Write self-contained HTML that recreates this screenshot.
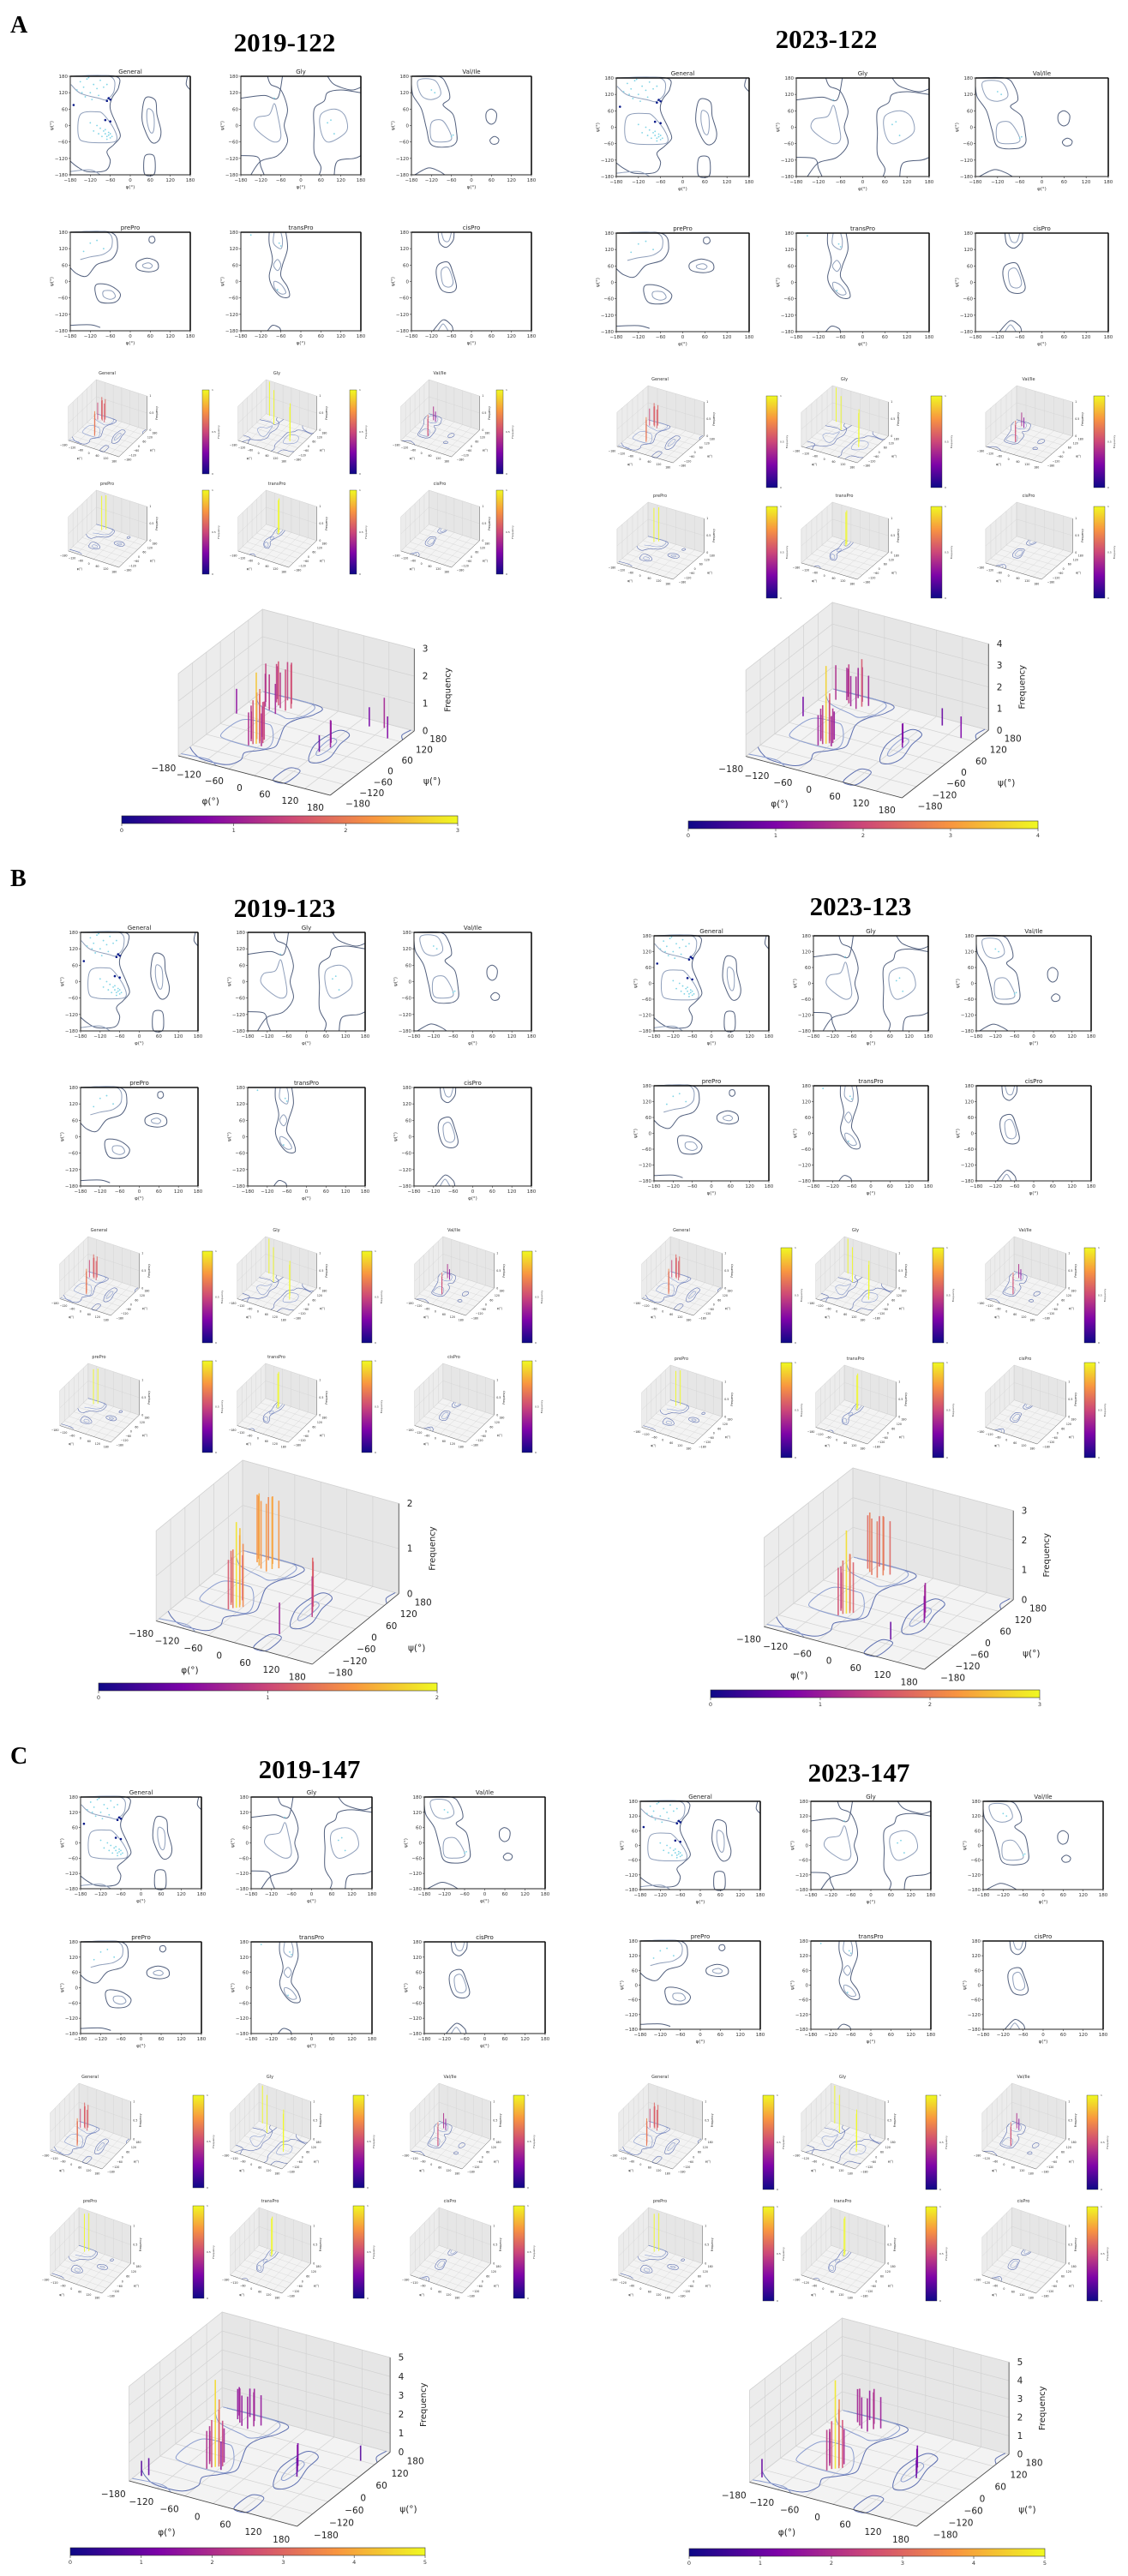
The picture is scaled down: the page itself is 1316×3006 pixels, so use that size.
<!DOCTYPE html>
<html><head><meta charset="utf-8"><title>Ramachandran plots</title>
<style>
html,body{margin:0;padding:0;background:#fff;}
svg{display:block;}
text{font-family:"DejaVu Sans","Liberation Sans",sans-serif;}
.ttl{font-family:"Liberation Serif",serif;font-weight:bold;}
</style></head>
<body>
<svg id="fig" width="1316" height="3006" viewBox="0 0 1316 3006" xmlns="http://www.w3.org/2000/svg">
<defs>
<linearGradient id="plasmaV" x1="0" y1="1" x2="0" y2="0">
<stop offset="0" stop-color="#0d0887"/><stop offset="0.25" stop-color="#7e03a8"/><stop offset="0.5" stop-color="#cc4778"/><stop offset="0.75" stop-color="#f89540"/><stop offset="1" stop-color="#f0f921"/>
</linearGradient>
<linearGradient id="plasmaH" x1="0" y1="0" x2="1" y2="0">
<stop offset="0" stop-color="#0d0887"/><stop offset="0.25" stop-color="#7e03a8"/><stop offset="0.5" stop-color="#cc4778"/><stop offset="0.75" stop-color="#f89540"/><stop offset="1" stop-color="#f0f921"/>
</linearGradient>
</defs>
</svg>
<script>
// ---------- data ----------
const angleTicks = [-180,-120,-60,0,60,120,180];
const ramaBeta = [[-150,160],[-140,140],[-130,170],[-120,120],[-110,150],[-100,135],[-90,165],[-135,105],[-80,140],[-115,95],[-160,130],[-70,150],[-95,110],[-125,175],[-145,120]];
const ramaAlpha = [[-70,-40],[-65,-35],[-60,-45],[-75,-30],[-80,-20],[-90,-10],[-100,0],[-70,-50],[-60,-30],[-85,-40],[-110,-20],[-65,-25],[-55,-40],[-95,-30],[-120,10],[-75,-15]];
const ramaDark = [[-65,100],[-70,90],[-60,95],[-75,20],[-60,15],[-170,75]];
const glyPts = [[-80,100],[80,10],[100,-30],[90,20]];
const valPts = [[-120,130],[-60,-40],[-110,120],[-55,-35]];
const prePts = [[-120,140],[-100,150],[-80,120],[-140,110]];
const transPts = [[-65,140],[-70,-30],[-60,130],[-150,170]];
const cisPts = [];

const contGeneral = [
 {l:0,c:false,p:[[-170,180],[-45,180],[-35,140],[-55,100],[-60,60],[-40,0],[-30,-40],[-50,-70],[-70,-95],[-60,-130],[-75,-165],[-130,-168],[-160,-150],[-180,-130]]},
 {l:1,c:false,p:[[-178,180],[-62,180],[-48,130],[-70,95],[-95,100],[-150,118],[-178,150]]},
 {l:1,c:true,p:[[-150,40],[-100,50],[-80,40],[-50,-10],[-40,-50],[-60,-62],[-130,-60],[-155,-40]]},
 {l:0,c:true,p:[[45,100],[75,92],[80,40],[92,-20],[85,-55],[65,-62],[45,-20],[35,30]]},
 {l:1,c:true,p:[[52,60],[68,50],[72,10],[68,-25],[58,-20],[50,20]]},
 {l:0,c:true,p:[[45,-110],[70,-110],[75,-150],[70,-180],[45,-180],[40,-150]]},
 {l:0,c:false,p:[[172,180],[168,150],[180,130]]},
 {l:1,c:false,p:[[-180,-168],[-120,-162],[-90,-180]]}
];
const contGly = [
 {l:0,c:false,p:[[-180,100],[-110,110],[-70,100],[-55,180]]},
 {l:0,c:false,p:[[-100,180],[-90,150],[-60,130],[-40,60],[-50,0],[-40,-60],[-70,-110],[-120,-130],[-150,-180]]},
 {l:1,c:true,p:[[-130,30],[-95,40],[-80,80],[-70,40],[-60,-40],[-80,-60],[-120,-30],[-140,0]]},
 {l:0,c:false,p:[[55,-180],[60,-150],[40,-100],[40,-20],[40,60],[70,90],[80,120],[120,130],[180,120]]},
 {l:1,c:true,p:[[60,40],[100,60],[130,40],[140,-10],[120,-40],[80,-60],[60,-20]]},
 {l:0,c:false,p:[[100,-180],[110,-130],[160,-120],[180,-110]]},
 {l:0,c:false,p:[[-180,-110],[-130,-115],[-120,-150],[-110,-180]]},
 {l:0,c:false,p:[[80,180],[100,150],[150,130],[180,140]]}
];
const contVal = [
 {l:0,c:false,p:[[-180,180],[-100,180],[-75,150],[-65,100],[-85,75],[-55,40],[-45,-20],[-45,-60],[-70,-78],[-120,-70],[-135,-10],[-150,60],[-175,110],[-180,150]]},
 {l:1,c:true,p:[[-160,165],[-110,165],[-92,115],[-120,95],[-150,110]]},
 {l:1,c:true,p:[[-120,10],[-90,20],[-70,-10],[-60,-50],[-90,-60],[-120,-50]]},
 {l:0,c:true,p:[[45,48],[60,60],[75,45],[72,15],[58,5],[45,20]]},
 {l:0,c:true,p:[[58,-48],[70,-40],[82,-50],[78,-65],[64,-68],[56,-58]]},
 {l:0,c:false,p:[[-170,-180],[-130,-155],[-100,-165],[-80,-180]]}
];
const contPre = [
 {l:0,c:false,p:[[-180,180],[-60,180],[-38,130],[-55,82],[-100,62],[-130,20],[-160,28],[-180,50]]},
 {l:1,c:false,p:[[-175,180],[-70,180],[-55,130],[-80,100],[-120,90],[-150,80]]},
 {l:0,c:true,p:[[58,162],[70,164],[74,150],[66,140],[57,146]]},
 {l:0,c:true,p:[[20,70],[50,85],[80,72],[82,45],[55,35],[22,45]]},
 {l:1,c:true,p:[[38,62],[55,68],[66,58],[58,48],[40,52]]},
 {l:0,c:true,p:[[-100,-10],[-60,-15],[-30,-45],[-45,-75],[-90,-75],[-105,-40]]},
 {l:1,c:true,p:[[-80,-35],[-55,-35],[-45,-55],[-60,-65],[-80,-55]]},
 {l:0,c:false,p:[[-180,-160],[-120,-158],[-90,-168]]}
];
const contTrans = [
 {l:0,c:false,p:[[-95,180],[-95,140],[-85,80],[-95,20],[-85,-20],[-60,-55],[-35,-55],[-40,-20],[-60,20],[-55,60],[-40,120],[-45,180]]},
 {l:1,c:false,p:[[-80,180],[-82,140],[-60,120],[-55,150],[-60,180]]},
 {l:1,c:true,p:[[-82,60],[-70,80],[-60,60],[-70,40]]},
 {l:1,c:true,p:[[-80,0],[-60,-10],[-45,-40],[-60,-45],[-78,-25]]},
 {l:0,c:false,p:[[-100,-180],[-85,-160],[-65,-168],[-60,-180]]}
];
const contCis = [
 {l:0,c:false,p:[[-100,180],[-95,140],[-75,125],[-55,150],[-52,180]]},
 {l:1,c:false,p:[[-90,180],[-82,150],[-68,148],[-60,180]]},
 {l:0,c:true,p:[[-100,60],[-70,70],[-55,30],[-45,-20],[-60,-40],[-90,-30],[-105,20]]},
 {l:1,c:true,p:[[-90,40],[-70,50],[-55,0],[-65,-20],[-85,-10]]},
 {l:0,c:false,p:[[-115,-180],[-85,-140],[-60,-160],[-55,-180]]},
 {l:1,c:false,p:[[-100,-180],[-85,-155],[-70,-180]]}
];

// small 3D bars [phi, psi, frequency]
const smallGeneral = [[-70,-40,0.7],[-75,-30,0.6],[-65,-50,0.65],[-80,-20,0.55],[-120,140,0.55],[-110,130,0.6],[-100,150,0.6],[-90,120,0.55],[-130,160,0.6],[-140,125,0.5]];
const smallGly = [[-150,170,1],[-80,100,1],[80,20,1],[100,-20,1]];
const smallVal = [[-65,-40,0.6],[-60,-50,0.5],[-120,130,0.4],[-100,120,0.3]];
const smallPre = [[-120,140,1],[-100,160,1]];
const smallTrans = [[-65,140,1],[-60,120,1]];
const smallCis = [];

// large 3D bars [phi, psi, frequency]
const bigA1 = [[-80,-60,1.2],[-75,-50,1.6],[-70,-45,2.6],[-65,-40,1.8],[-60,-35,1.5],[-85,-40,1.3],[-70,-30,1.9],[-65,-20,1.4],[-75,-10,1.1],[-90,-30,1.0],[-55,-50,1.2],[-80,-25,1.7],
 [-130,150,1.4],[-120,140,1.6],[-110,130,1.3],[-100,160,1.5],[-140,120,1.2],[-90,140,1.6],[-115,170,1.4],[-125,110,1.3],[-105,100,1.1],[-95,125,1.5],[-135,165,1.2],[-150,140,1.4],
 [-175,60,0.9],[60,40,0.8],[70,20,1.0],[90,150,0.7],[150,120,0.8],[60,-10,0.6],[120,160,1.1]];
const bigA2 = [[-80,-60,1.4],[-75,-50,1.8],[-70,-45,3.6],[-65,-40,2.0],[-60,-35,1.6],[-85,-40,1.5],[-70,-30,2.2],[-65,-20,1.3],[-90,-30,1.1],[-55,-50,1.4],
 [-130,150,1.5],[-120,140,1.8],[-110,130,1.4],[-100,160,1.6],[-90,140,2.2],[-115,170,1.4],[-95,125,1.5],[-135,165,1.3],[-150,140,1.6],[-80,150,1.4],
 [-170,40,0.9],[60,40,0.9],[70,20,1.1],[90,150,0.8],[150,120,1.0]];
const bigB1 = [[-80,-60,1.1],[-75,-50,1.3],[-70,-45,1.9],[-65,-40,1.6],[-60,-35,1.4],[-85,-40,1.2],[-70,-30,1.7],[-75,-10,1.0],[-90,-30,1.0],
 [-130,150,1.5],[-120,140,1.6],[-110,130,1.5],[-100,160,1.5],[-90,140,1.6],[-115,170,1.4],[-95,125,1.5],[-135,165,1.4],[-80,150,1.5],
 [60,40,1.0],[70,20,1.2],[80,0,0.9],[60,-100,0.7]];
const bigB2 = [[-80,-60,1.6],[-75,-50,1.8],[-70,-45,2.8],[-65,-40,2.0],[-60,-35,1.7],[-85,-40,1.5],[-70,-30,1.9],[-90,-30,1.2],
 [-130,150,1.8],[-120,140,2.0],[-110,130,1.9],[-100,160,1.8],[-90,140,2.0],[-115,170,1.7],[-95,125,1.9],[-80,150,1.8],
 [60,40,1.0],[70,20,1.1],[80,0,0.9],[60,-100,0.6]];
const bigC1 = [[-80,-60,2.0],[-75,-50,2.5],[-70,-45,4.6],[-65,-40,3.0],[-60,-35,2.4],[-85,-40,2.0],[-70,-30,3.4],[-65,-20,1.8],[-90,-30,1.6],[-55,-50,1.5],
 [-130,150,1.6],[-120,140,1.8],[-110,130,1.6],[-100,160,1.7],[-90,140,1.8],[-115,170,1.5],[-95,125,1.7],[-135,165,1.5],[-80,150,1.6],
 [-170,-150,0.8],[-160,-140,0.9],[60,40,1.2],[70,20,1.4],[80,0,1.0],[150,120,0.8]];
const bigC2 = [[-80,-60,2.2],[-75,-50,2.6],[-70,-45,4.8],[-65,-40,3.2],[-60,-35,2.6],[-85,-40,2.0],[-70,-30,3.6],[-65,-20,1.9],[-90,-30,1.7],
 [-130,150,1.8],[-120,140,2.0],[-110,130,1.7],[-100,160,1.9],[-90,140,2.0],[-115,170,1.6],[-95,125,1.8],[-80,150,1.7],
 [-170,-150,1.0],[60,40,1.2],[70,20,1.3],[80,0,1.0]];

// ---------- helpers ----------
const NS='http://www.w3.org/2000/svg';
const svg=document.getElementById('fig');
function mk(tag, attrs, parent){const e=document.createElementNS(NS,tag);for(const k in attrs)e.setAttribute(k,attrs[k]);(parent||svg).appendChild(e);return e;}
const plasmaStops=[[13,8,135],[126,3,168],[204,71,120],[248,149,64],[240,249,33]];
function plasma(t){t=Math.max(0,Math.min(1,t));const s=t*4;const i=Math.min(3,Math.floor(s));const f=s-i;const a=plasmaStops[i],b=plasmaStops[i+1];return 'rgb('+a.map((v,k)=>Math.round(v+(b[k]-v)*f)).join(',')+')';}
function smooth(pts, closed){
  const n=pts.length; if(n<2) return '';
  const P=i=> closed? pts[(i+n)%n] : pts[Math.max(0,Math.min(n-1,i))];
  let d='M'+pts[0][0].toFixed(1)+','+pts[0][1].toFixed(1);
  const m= closed? n : n-1;
  for(let i=0;i<m;i++){
    const p0=P(i-1),p1=P(i),p2=P(i+1),p3=P(i+2);
    const c1=[p1[0]+(p2[0]-p0[0])/6,p1[1]+(p2[1]-p0[1])/6];
    const c2=[p2[0]-(p3[0]-p1[0])/6,p2[1]-(p3[1]-p1[1])/6];
    d+='C'+c1[0].toFixed(1)+','+c1[1].toFixed(1)+' '+c2[0].toFixed(1)+','+c2[1].toFixed(1)+' '+p2[0].toFixed(1)+','+p2[1].toFixed(1);
  }
  return d+(closed?'Z':'');
}
const contColor=['#52607e','#8f9fbb'];

function drawRama(x,y,w,h,title,conts,pts,dark){
  const g=mk('g',{});
  
  
  const X=p=>x+(p+180)/360*w, Y=q=>y+h-(q+180)/360*h;
  mk('rect',{x:x,y:y,width:w,height:h,fill:'#fff'},g);
  conts.forEach(c=>{
    const p=mk('path',{d:smooth(c.p.map(a=>[X(a[0]),Y(a[1])]),c.c),fill:'none',stroke:contColor[c.l],'stroke-width':1},g);
    
    
  });
  pts.forEach(a=>{
    const c=mk('circle',{cx:X(a[0]),cy:Y(a[1]),r:0.9,fill:'#7fd4e6'},g);
    
    
  });
  (dark||[]).forEach(a=>{
    const c=mk('circle',{cx:X(a[0]),cy:Y(a[1]),r:1.3,fill:'#0a1a8a'},g);
    
    
  });
  mk('rect',{x:x,y:y,width:w,height:h,fill:'none',stroke:'#222','stroke-width':1},g);
  mk('line',{x1:x+w,y1:y,x2:x+w,y2:y+h,stroke:'#111','stroke-width':1.6},g);
  mk('line',{x1:x,y1:y,x2:x+w,y2:y,stroke:'#111','stroke-width':1.6},g);
  angleTicks.forEach(t=>{
    mk('line',{x1:X(t),y1:y+h,x2:X(t),y2:y+h+2,stroke:'#333','stroke-width':0.6},g);
    mk('line',{x1:x,y1:Y(t),x2:x-2,y2:Y(t),stroke:'#333','stroke-width':0.6},g);
    const tx=mk('text',{x:X(t),y:y+h+8,'font-size':5.5,'text-anchor':'middle',fill:'#333'},g);tx.textContent=String(t).replace('-','\u2212');
    
    
    const ty=mk('text',{x:x-3,y:Y(t)+2,'font-size':5.5,'text-anchor':'end',fill:'#333'},g);ty.textContent=String(t).replace('-','\u2212');
    
    
  });
  const tt=mk('text',{x:x+w/2,y:y-3,'font-size':7,'text-anchor':'middle',fill:'#222'},g);tt.textContent=title;
  
  
  const xl=mk('text',{x:x+w/2,y:y+h+16,'font-size':5.5,'text-anchor':'middle',fill:'#333'},g);xl.textContent='φ(°)';
  
  
  const yl=mk('text',{x:0,y:0,'font-size':5.5,'text-anchor':'middle',fill:'#333',transform:'translate('+(x-20)+','+(y+h/2)+') rotate(-90)'},g);yl.textContent='ψ(°)';
  
  
}

function draw3D(x,y,W,H,title,conts,bars,zmax,zticks,big){
  const g=mk('g',{});
  
  
  const O=[0.018,0.788],VP=[0.628,0.212],VS=[0.348,-0.346],VZ=[0,-0.442];
  const P=(phi,psi,f)=>{const u=(phi+180)/360,v=(psi+180)/360,w=f/zmax;
    return [x+W*(O[0]+VP[0]*u+VS[0]*v+VZ[0]*w), y+H*(O[1]+VP[1]*u+VS[1]*v+VZ[1]*w)];};
  const poly=(arr,attrs)=>mk('polygon',Object.assign({points:arr.map(p=>p[0].toFixed(1)+','+p[1].toFixed(1)).join(' ')},attrs),g);
  const gw=big?0.7:0.4;
  poly([P(-180,-180,0),P(-180,180,0),P(-180,180,zmax),P(-180,-180,zmax)],{fill:'#ececec',stroke:'#d8d8d8','stroke-width':gw});
  poly([P(-180,180,0),P(180,180,0),P(180,180,zmax),P(-180,180,zmax)],{fill:'#e6e6e6',stroke:'#d8d8d8','stroke-width':gw});
  poly([P(-180,-180,0),P(180,-180,0),P(180,180,0),P(-180,180,0)],{fill:'#f3f3f3',stroke:'#d8d8d8','stroke-width':gw});
  const ln=(a,b,c,sw)=>mk('line',{x1:a[0],y1:a[1],x2:b[0],y2:b[1],stroke:c,'stroke-width':sw},g);
  angleTicks.forEach(t=>{
    ln(P(t,-180,0),P(t,180,0),'#d2d2d2',gw); ln(P(-180,t,0),P(180,t,0),'#d2d2d2',gw);
    ln(P(t,180,0),P(t,180,zmax),'#d2d2d2',gw); ln(P(-180,t,0),P(-180,t,zmax),'#d2d2d2',gw);
  });
  zticks.forEach(z=>{ln(P(-180,-180,z),P(-180,180,z),'#d2d2d2',gw); ln(P(-180,180,z),P(180,180,z),'#d2d2d2',gw);});
  conts.forEach(c=>{
    const p=mk('path',{d:smooth(c.p.map(a=>P(a[0],a[1],0)),c.c),fill:'none',stroke:c.l?'#8c9ed0':'#5d6fb0','stroke-width':big?1:0.6},g);
    
    
  });
  bars.slice().sort((a,b)=>(b[1]-a[1])-(a[0]-b[0])*0.3).forEach(b=>{
    const a=P(b[0],b[1],0),t=P(b[0],b[1],b[2]);
    const l=mk('line',{x1:a[0],y1:a[1],x2:t[0],y2:t[1],stroke:plasma(b[2]/zmax),'stroke-width':big?1.6:1,'stroke-opacity':0.9},g);
    
    
  });
  ln(P(-180,-180,0),P(180,-180,0),'#444',big?0.8:0.4);
  ln(P(180,-180,0),P(180,180,0),'#444',big?0.8:0.4);
  ln(P(180,180,0),P(180,180,zmax),'#444',big?0.8:0.4);
  const fs=big?10.5:3.2;
  angleTicks.forEach(t=>{
    const a=P(t,-180-40,0);
    const tx=mk('text',{x:a[0]-fs*0.6,y:a[1]+fs*0.9,'font-size':fs,'text-anchor':'middle',fill:'#222'},g);tx.textContent=String(t).replace('-','\u2212');
    
    
    const b=P(180+30,t,0);
    const ty=mk('text',{x:b[0]+fs*0.3,y:b[1]+fs*0.9,'font-size':fs,'text-anchor':'start',fill:'#222'},g);ty.textContent=String(t).replace('-','\u2212');
    
    
  });
  zticks.forEach(z=>{
    const a=P(180,180,z);
    const tz=mk('text',{x:a[0]+fs*0.9,y:a[1]+fs*0.35,'font-size':fs,'text-anchor':'start',fill:'#222'},g);tz.textContent=String(z);
    
    
  });
  const pl=P(0,-180-110,0);
  const xl=mk('text',{x:pl[0]-fs*2,y:pl[1]+fs,'font-size':fs,'text-anchor':'middle',fill:'#222'},g);xl.textContent='φ(°)';
  
  
  const sl=P(180+110,0,0);
  const yl=mk('text',{x:sl[0]+fs*1.5,y:sl[1]+fs,'font-size':fs,'text-anchor':'middle',fill:'#222'},g);yl.textContent='ψ(°)';
  
  
  const zl=P(180,180,zmax*0.5);
  const zt=mk('text',{x:0,y:0,'font-size':fs*0.95,'text-anchor':'middle',fill:'#222',transform:'translate('+(zl[0]+fs*4)+','+zl[1]+') rotate(-90)'},g);zt.textContent='Frequency';
  
  
  if(!big){
    const tt=mk('text',{x:x+W*0.5,y:y-6,'font-size':5,'text-anchor':'middle',fill:'#333'},g);tt.textContent=title;
    
    
  }
}

function vColorbar(x,y,w,h){
  const r=mk('rect',{x:x,y:y,width:w,height:h,fill:'url(#plasmaV)',stroke:'#333','stroke-width':0.4});
  
  
  [0,0.5,1].forEach((t,i)=>{
    const tx=mk('text',{x:x+w+3,y:y+h-h*t+1,'font-size':3,fill:'#333'});tx.textContent=String(t);
    
    
  });
  const l=mk('text',{x:0,y:0,'font-size':3,'text-anchor':'middle',fill:'#333',transform:'translate('+(x+w+12)+','+(y+h/2)+') rotate(-90)'});l.textContent='Frequency';
  
  
}
function hColorbar(x,y,w,zmax){
  const r=mk('rect',{x:x,y:y,width:w,height:9,fill:'url(#plasmaH)',stroke:'#333','stroke-width':0.6});
  
  
  for(let t=0;t<=zmax;t++){
    const px=x+w*t/zmax;
    mk('line',{x1:px,y1:y+9,x2:px,y2:y+12,stroke:'#333','stroke-width':0.6});
    const tx=mk('text',{x:px,y:y+19,'font-size':6.5,'text-anchor':'middle',fill:'#333'});tx.textContent=String(t);
    
    
  }
}

// ---------- layout ----------
const ramaTypes=[['General',contGeneral,ramaBeta.concat(ramaAlpha),ramaDark],['Gly',contGly,glyPts,[]],['Val/Ile',contVal,valPts,[]],['prePro',contPre,prePts,[]],['transPro',contTrans,transPts,[]],['cisPro',contCis,cisPts,[]]];
const smallBars=[smallGeneral,smallGly,smallVal,smallPre,smallTrans,smallCis];
const figs=[
 {t:'2019-122',tx:332,ty:60,rx:[82,281,480],rw:140,ry:[89,271],rh:115,sx:[78,276,466],sw:94,sy:[443,572],sh:90,cx:[236,408,579],cy:[455,572],cw:8,ch:98,bx:203,by:711,bw:282,bh:217,cbx:142,cby:952,cbw:392,zmax:3,bars:bigA1},
 {t:'2023-122',tx:964,ty:56,rx:[719,929,1138],rw:155,ry:[91,272],rh:115,sx:[718,933,1148],sw:104,sy:[450,586],sh:90,cx:[894,1086,1276],cy:[462,591],cw:13,ch:107,bx:865,by:703,bw:290,bh:228,cbx:803,cby:958,cbw:408,zmax:4,bars:bigA2},
 {t:'2019-123',tx:332,ty:1070,rx:[94,289,483],rw:137,ry:[1088,1269],rh:115,sx:[68,275,482],sw:95,sy:[1443,1591],sh:92,cx:[236,422,609],cy:[1460,1588],cw:12,ch:107,bx:177,by:1704,bw:290,bh:238,cbx:115,cby:1964,cbw:395,zmax:2,bars:bigB1},
 {t:'2023-123',tx:1004,ty:1068,rx:[763,949,1139],rw:134,ry:[1092,1267],rh:111,sx:[747,950,1148],sw:96,sy:[1443,1593],sh:92,cx:[911,1088,1265],cy:[1456,1590],cw:13,ch:111,bx:886,by:1713,bw:298,bh:235,cbx:829,cby:1972,cbw:384,zmax:3,bars:bigB2},
 {t:'2019-147',tx:361,ty:2075,rx:[94,293,495],rw:141,ry:[2097,2266],rh:107,sx:[57,267,477],sw:96,sy:[2431,2576],sh:100,cx:[225,412,599],cy:[2445,2574],cw:13,ch:108,bx:145,by:2698,bw:312,bh:250,cbx:82,cby:2973,cbw:414,zmax:5,bars:bigC1},
 {t:'2023-147',tx:1002,ty:2079,rx:[747,946,1147],rw:140,ry:[2102,2265],rh:103,sx:[720,933,1144],sw:100,sy:[2431,2576],sh:100,cx:[890,1080,1268],cy:[2445,2575],cw:13,ch:110,bx:869,by:2705,bw:310,bh:243,cbx:804,cby:2974,cbw:415,zmax:5,bars:bigC2}
];
[['A',12,38],['B',12,1034],['C',12,2058]].forEach(l=>{
  const t=mk('text',{x:l[1],y:l[2],'font-size':28,class:'ttl',fill:'#000'});t.textContent=l[0];
  
  
});
figs.forEach(f=>{
  const t=mk('text',{x:f.tx,y:f.ty,'font-size':31,'text-anchor':'middle',class:'ttl',fill:'#000'});t.textContent=f.t;
  
  
  ramaTypes.forEach((rt,i)=>{
    const c=i%3,r=Math.floor(i/3);
    drawRama(f.rx[c],f.ry[r],f.rw,f.rh,rt[0],rt[1],rt[2],rt[3]);
    draw3D(f.sx[c],f.sy[r],f.sw,f.sh,rt[0],rt[1],smallBars[i],1,[0,0.5,1],false);
    vColorbar(f.cx[c],f.cy[r],f.cw,f.ch);
  });
  const zt=[];for(let z=0;z<=f.zmax;z++)zt.push(z);
  draw3D(f.bx,f.by,f.bw,f.bh,'overall',contGeneral,f.bars,f.zmax,zt,true);
  hColorbar(f.cbx,f.cby,f.cbw,f.zmax);
});
</script>
</body></html>
